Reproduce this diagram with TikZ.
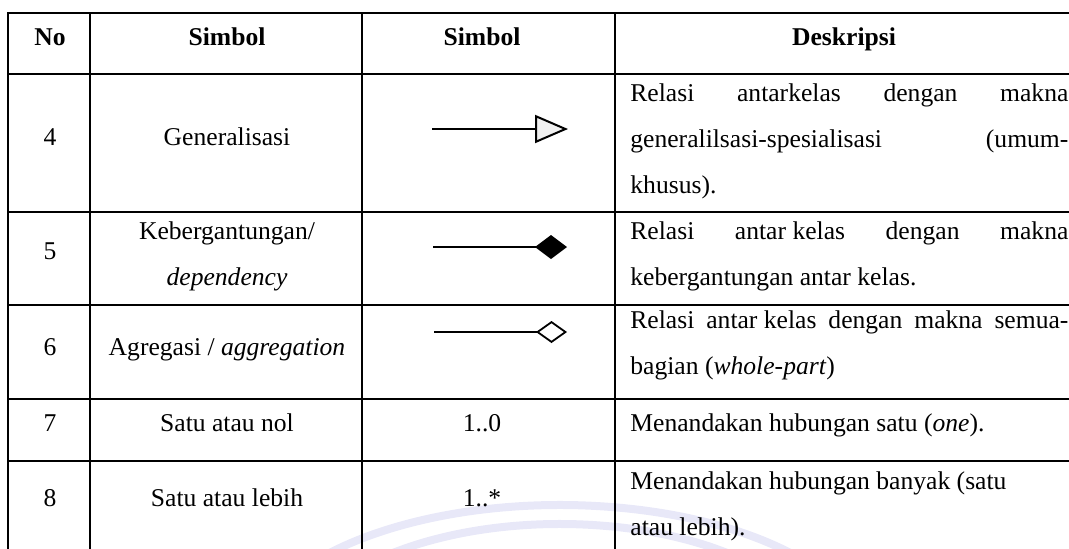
\documentclass[tikz,border=0pt]{standalone}
\usepackage{fontspec}
\setmainfont{Liberation Serif}
\usetikzlibrary{arrows.meta}
\definecolor{wmark}{RGB}{232,232,248}
\tikzset{
  grid/.style={line width=1pt, line cap=rect},
  txt/.style={inner sep=0pt, anchor=base, font=\fontsize{12.8}{15}\selectfont},
  hdr/.style={txt, font=\fontsize{12.8}{15}\selectfont\bfseries},
  desc/.style={txt, anchor=base west},
  wire/.style={line width=0.75pt},
  wmarc/.style={wmark, line width=4pt},
}
\newcommand{\jline}[1]{\makebox[219pt][s]{#1}}
\begin{document}
\begin{tikzpicture}[x=0.5pt, y=-0.5pt]
\useasboundingbox (0,0) rectangle (1069,548);
\clip (0,0) rectangle (1069,548);

% faint logo arcs in the background
\draw[wmarc] (560,650) ++(190:310 and 145) arc[start angle=190, end angle=350, x radius=310, y radius=145];
\draw[wmarc] (560,650) ++(190:262 and 126) arc[start angle=190, end angle=350, x radius=262, y radius=126];

% table rules
\draw[grid] (1090,13) -- (8,13) -- (8,570);
\foreach \y in {74,212,305,399,461} \draw[grid] (8,\y) -- (1090,\y);
\foreach \x in {90,362,615} \draw[grid] (\x,13) -- (\x,570);

% header
\node[hdr] (h-no)  at (50,45)  {No};
\node[hdr] (h-s1)  at (227,45) {Simbol};
\node[hdr] (h-s2)  at (482,45) {Simbol};
\node[hdr] (h-ds)  at (844,45) {Deskripsi};

% row 4
\node[txt] (n4) at (50,145) {4};
\node[txt] (t4) at (227,145) {Generalisasi};
\coordinate (g-a) at (432,129);
\coordinate (g-b) at (568,129);
\draw[wire, -{Triangle[open, fill=gray!12, length=16.5pt, width=14pt, line width=1pt]}] (g-a) -- (g-b);
\node[desc] (d4a) at (630,101) {\jline{Relasi antarkelas dengan makna}};
\node[desc] (d4b) at (630,147) {\jline{generalilsasi-spesialisasi (umum-}};
\node[desc] (d4c) at (630,193) {khusus).};

% row 5
\node[txt] (n5) at (50,259) {5};
\node[txt] (t5a) at (227,239) {Kebergantungan/};
\node[txt] (t5b) at (227,285) {\itshape dependency};
\coordinate (k-a) at (433,247);
\coordinate (k-b) at (567,247);
\draw[wire, -{Diamond[length=16pt, width=12pt]}] (k-a) -- (k-b);
\node[desc] (d5a) at (630,239) {\jline{Relasi \mbox{antar kelas} dengan makna}};
\node[desc] (d5b) at (630,285) {kebergantungan antar kelas.};

% row 6
\node[txt] (n6) at (50,355) {6};
\node[txt] (t6) at (227,355) {Agregasi / \textit{aggregation}};
\coordinate (a-a) at (434,332);
\coordinate (a-b) at (567,332);
\draw[wire, -{Diamond[open, length=15.5pt, width=11pt, line width=0.9pt]}] (a-a) -- (a-b);
\node[desc] (d6a) at (630,328) {\jline{Relasi \mbox{antar kelas} dengan makna semua-}};
\node[desc] (d6b) at (630,374) {bagian (\textit{whole-part})};

% row 7
\node[txt] (n7) at (50,431) {7};
\node[txt] (t7) at (227,431) {Satu atau nol};
\node[txt] (m7) at (482,431) {1..0};
\node[desc] (d7) at (630,431) {Menandakan hubungan satu (\textit{one}).};

% row 8
\node[txt] (n8) at (50,506) {8};
\node[txt] (t8) at (227,506) {Satu atau lebih};
\node[txt] (m8) at (482,506) {1..*};
\node[desc] (d8a) at (630,489) {Menandakan hubungan banyak (satu};
\node[desc] (d8b) at (630,535) {atau lebih).};
\end{tikzpicture}
\end{document}
